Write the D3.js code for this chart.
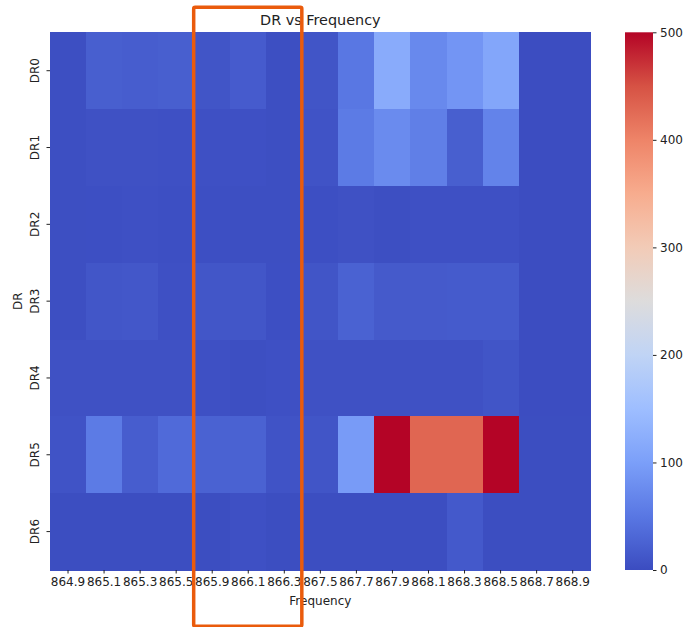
<!DOCTYPE html>
<html>
<head>
<meta charset="utf-8">
<script src="https://cdn.jsdelivr.net/npm/d3@7"></script>
<style>
  body { margin: 0; background: #fff; }
  text { font-family: "DejaVu Sans", sans-serif; fill: #222; }
</style>
</head>
<body>
<svg id="chart" width="685" height="627"></svg>
<script>
// rows and columns of the heatmap
const rows = ["DR0", "DR1", "DR2", "DR3", "DR4", "DR5", "DR6"];
const freqs = ["864.9", "865.1", "865.3", "865.5", "865.9", "866.1", "866.3",
  "867.5", "867.7", "867.9", "868.1", "868.3", "868.5", "868.7", "868.9"];

// counts, one array per DR row
const dr0 = [3, 22, 20, 22, 10, 18, 3, 10, 50, 120, 72, 88, 112, 1, 1];
const dr1 = [3, 6, 6, 5, 5, 5, 3, 8, 55, 75, 60, 22, 65, 1, 1];
const dr2 = [3, 4, 5, 4, 4, 3, 3, 4, 6, 3, 5, 5, 5, 1, 1];
const dr3 = [3, 12, 13, 5, 12, 12, 4, 10, 25, 16, 16, 17, 17, 1, 1];
const dr4 = [6, 6, 6, 6, 5, 3, 5, 6, 6, 6, 6, 6, 10, 1, 1];
const dr5 = [8, 55, 20, 35, 25, 25, 8, 10, 95, 500, 430, 430, 500, 2, 2];
const dr6 = [2, 2, 2, 2, 2, 5, 2, 2, 2, 2, 2, 15, 2, 2, 2];
const values = [dr0, dr1, dr2, dr3, dr4, dr5, dr6];

const cbarTicks = [0, 100, 200, 300, 400, 500];

// matplotlib coolwarm sampled at 11 stops
const coolwarm = ["#3b4cc0", "#5977e3", "#7b9ff9", "#9ebeff", "#c0d4f5", "#dddcdc",
  "#f2cbb7", "#f7ac8e", "#ee8468", "#d65244", "#b40426"];
const interp = d3.piecewise(d3.interpolateRgb, coolwarm);
const color = d3.scaleSequential(interp).domain([0, 500]);

const svg = d3.select("#chart");
const plotL = 50, plotR = 590.7, plotT = 32.3, plotB = 570;

const x = d3.scaleBand().domain(freqs).range([plotL, plotR]);
const y = d3.scaleBand().domain(rows).range([plotT, plotB]);

// cells
rows.forEach((r, i) => {
  svg.append("g")
    .attr("shape-rendering", "crispEdges")
    .selectAll("rect")
    .data(values[i])
    .join("rect")
    .attr("x", (d, j) => x(freqs[j]))
    .attr("y", y(r))
    .attr("width", x.bandwidth() + 0.5)
    .attr("height", y.bandwidth() + 0.5)
    .attr("fill", d => color(d));
});

// axes
const xAxis = svg.append("g")
  .attr("transform", `translate(0,${plotB})`)
  .call(d3.axisBottom(x).tickSize(3.5).tickPadding(3.5));
xAxis.select(".domain").remove();
xAxis.selectAll("text").attr("font-size", 12).attr("font-family", "DejaVu Sans");
xAxis.selectAll("line").attr("stroke", "#222");

const yAxis = svg.append("g")
  .attr("transform", `translate(${plotL},0)`)
  .call(d3.axisLeft(y).tickSize(3.5).tickPadding(3.5));
yAxis.select(".domain").remove();
yAxis.selectAll("line").attr("stroke", "#222");
yAxis.selectAll("text")
  .attr("font-size", 12)
  .attr("font-family", "DejaVu Sans")
  .attr("x", 0)
  .attr("dy", "0")
  .attr("text-anchor", "middle")
  .attr("transform", "translate(-11,0) rotate(-90)");

// axis labels and title
svg.append("text")
  .attr("x", (plotL + plotR) / 2)
  .attr("y", 605)
  .attr("text-anchor", "middle")
  .attr("font-size", 12)
  .text("Frequency");

svg.append("text")
  .attr("transform", `translate(22,${(plotT + plotB) / 2}) rotate(-90)`)
  .attr("text-anchor", "middle")
  .attr("font-size", 12)
  .text("DR");

svg.append("text")
  .attr("x", (plotL + plotR) / 2)
  .attr("y", 25)
  .attr("text-anchor", "middle")
  .attr("font-size", 14.4)
  .text("DR vs Frequency");

// colorbar
const cbX = 625, cbW = 28;
const cScale = d3.scaleLinear().domain([0, 500]).range([plotB, plotT]);
const defs = svg.append("defs");
const grad = defs.append("linearGradient")
  .attr("id", "cbar")
  .attr("x1", 0).attr("y1", 1).attr("x2", 0).attr("y2", 0);
d3.range(0, 1.0001, 0.05).forEach(t => {
  grad.append("stop").attr("offset", t).attr("stop-color", interp(t));
});
svg.append("rect")
  .attr("x", cbX)
  .attr("y", plotT)
  .attr("width", cbW)
  .attr("height", plotB - plotT)
  .attr("fill", "url(#cbar)");

const cAxis = svg.append("g")
  .attr("transform", `translate(${cbX + cbW},0)`)
  .call(d3.axisRight(cScale).tickValues(cbarTicks).tickSize(3.5).tickPadding(3.5));
cAxis.select(".domain").remove();
cAxis.selectAll("line").attr("stroke", "#222");
cAxis.selectAll("text").attr("font-size", 12).attr("font-family", "DejaVu Sans");

// orange highlight box
svg.append("rect")
  .attr("x", x("865.9") - 0.5)
  .attr("y", 7.2)
  .attr("width", x.bandwidth() * 3)
  .attr("height", 619)
  .attr("rx", 1.5)
  .attr("fill", "none")
  .attr("stroke", "#ea5b0c")
  .attr("stroke-width", 3.5);
</script>
</body>
</html>
